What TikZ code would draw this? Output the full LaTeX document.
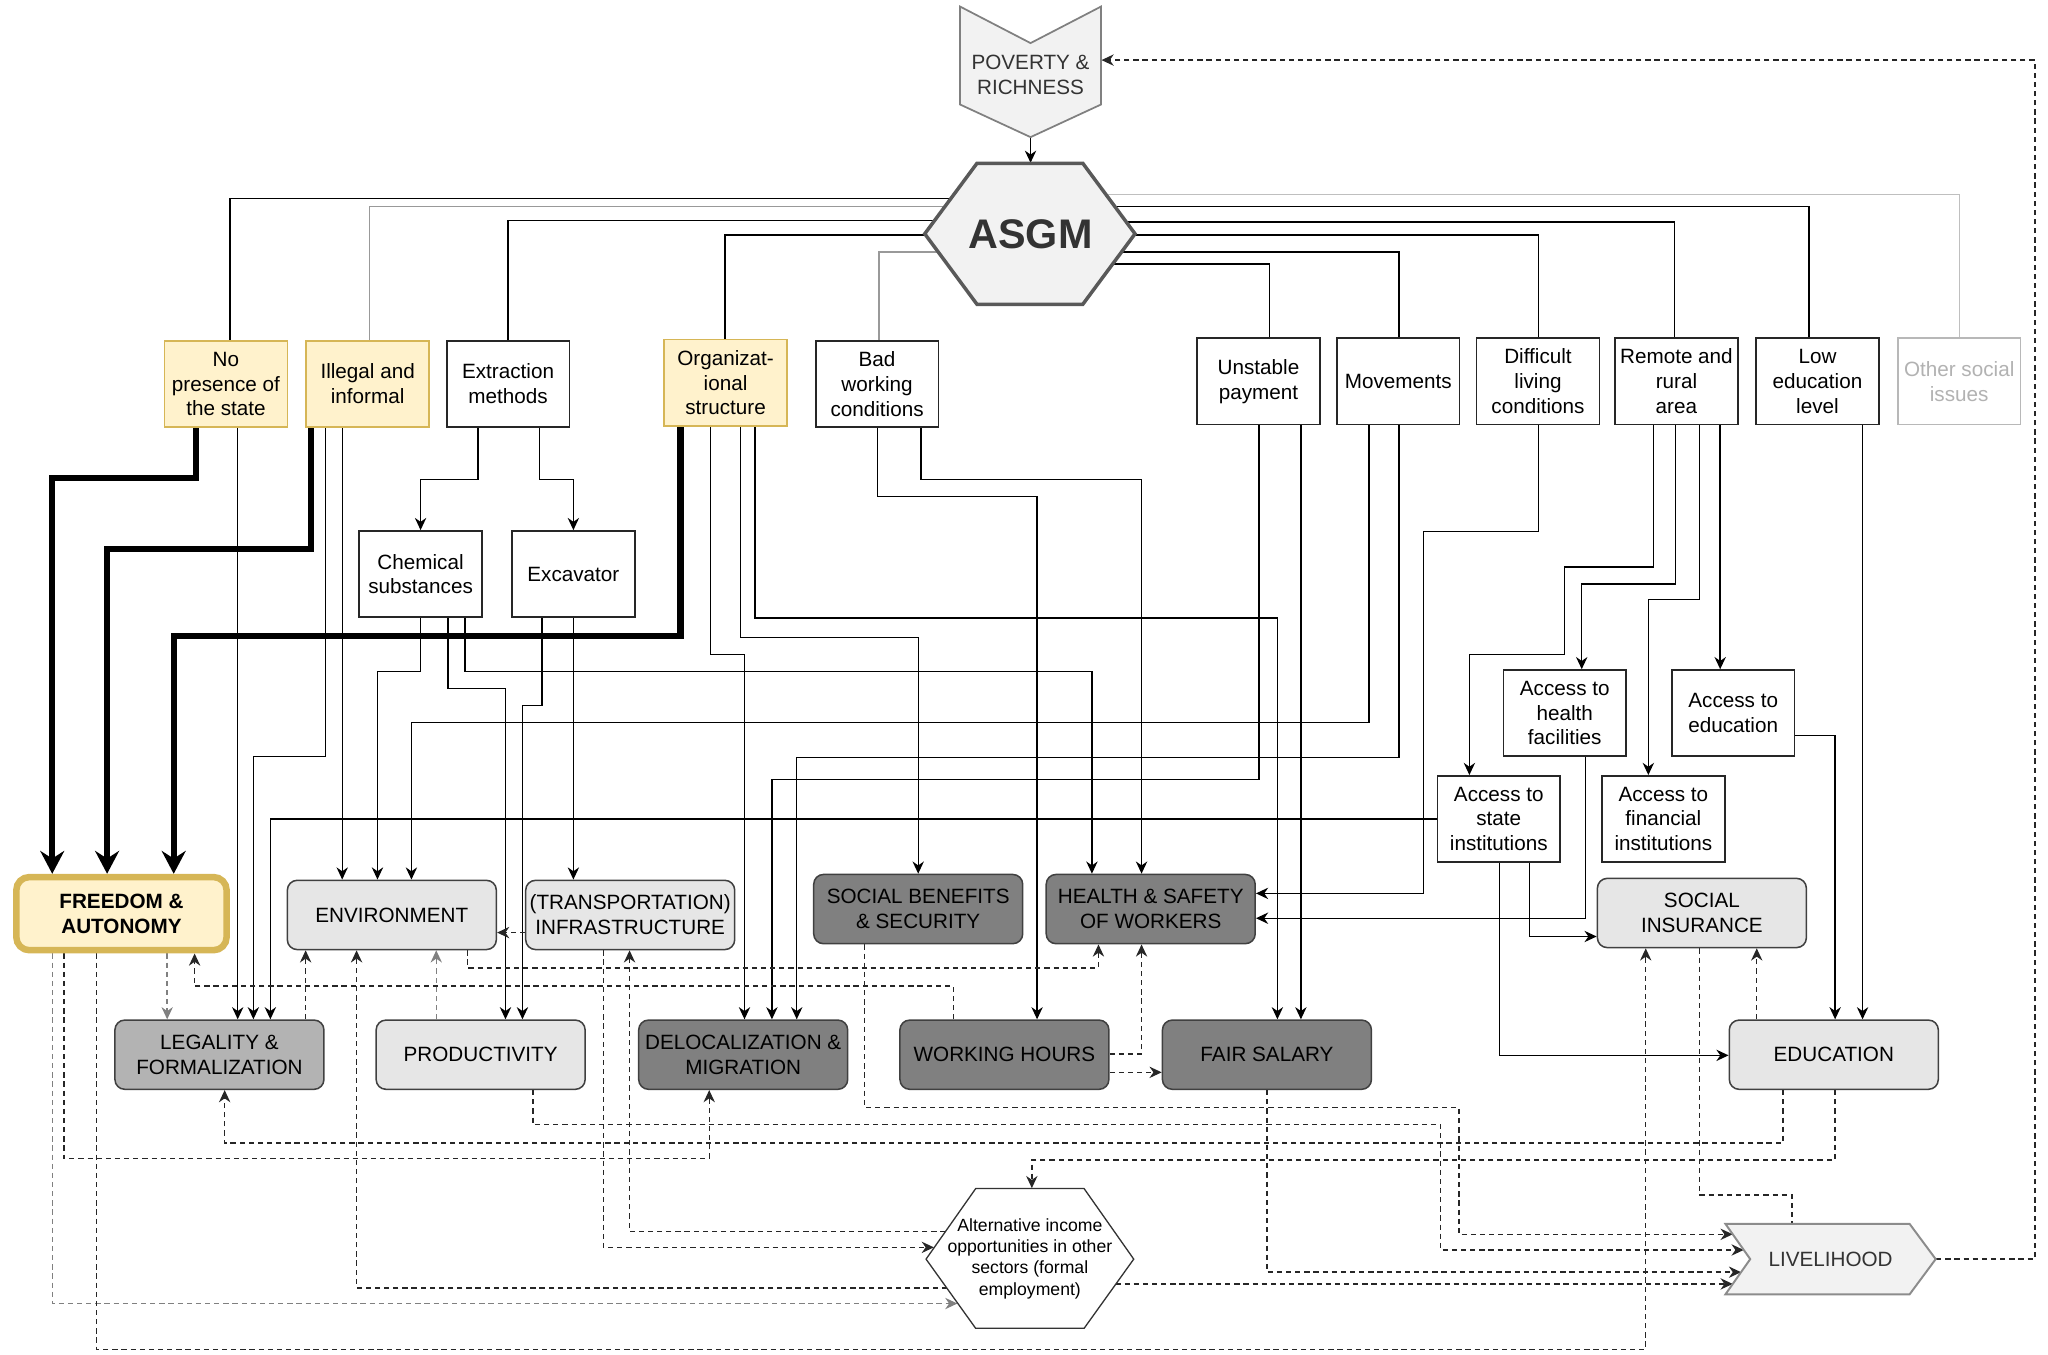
\documentclass[tikz,border=0pt]{standalone}
\usepackage{fontspec}
\setmainfont{Liberation Sans}
\usetikzlibrary{arrows.meta}
\pgfdeclarelayer{bg}
\pgfsetlayers{bg,main}
\definecolor{yfill}{HTML}{FFF2CC}
\definecolor{yborder}{HTML}{D6B656}
\definecolor{lgfill}{HTML}{E6E6E6}
\definecolor{mgfill}{HTML}{B3B3B3}
\definecolor{dgfill}{HTML}{808080}
\definecolor{shfill}{HTML}{F2F2F2}
\definecolor{txtd}{HTML}{333333}
\begin{document}
\begin{tikzpicture}[x=0.6pt,y=-0.6pt,
  every node/.style={font=\fontsize{9.5}{11.4}\selectfont, align=center, inner sep=1pt, text=black},
  sq/.style={draw=black!85, line width=0.75pt, fill=white, minimum width=56.4pt, minimum height=39.6pt},
  yel/.style={sq, fill=yfill, draw=yborder},
  rbox/.style={draw=black!75, line width=0.7pt, rounded corners=4.5pt, minimum width=96pt, minimum height=31.8pt, inner sep=0.5pt},
  lg/.style={rbox, fill=lgfill},
  mg/.style={rbox, fill=mgfill},
  dg/.style={rbox, fill=dgfill},
  ln/.style={line width=0.65pt, draw=black},
  conn/.style={ln, -{Stealth[length=5.6pt,width=5.2pt,inset=1.8pt]}},
  thk/.style={line width=2.8pt, draw=black, -{Stealth[length=10.5pt,width=11pt,inset=3.5pt]}},
  dsh/.style={conn, draw=black!85, dash pattern=on 2.4pt off 1.8pt},
  dshg/.style={dsh, draw=black!50},
  dshp/.style={ln, draw=black!85, dash pattern=on 2.4pt off 1.8pt},
]
\useasboundingbox (0,0) rectangle (1568,1037);

% ---- special shapes ----
\filldraw[fill=shfill, draw=black!50, line width=0.8pt] (735,5) -- (789,33) -- (843,5) -- (843,80) -- (789,105) -- (735,80) -- cycle;
\node[minimum width=64.8pt, minimum height=20pt, text=txtd] (pov) at (789,57.5) {POVERTY \&\\RICHNESS};

\filldraw[fill=shfill, draw=black!65, line width=1.6pt] (708,179) -- (748,125) -- (829,125) -- (869,179) -- (829,233) -- (748,233) -- cycle;
\node[minimum width=96.6pt, minimum height=64.8pt, font=\fontsize{19}{22}\selectfont\bfseries, text=txtd] (asgm) at (789,179) {ASGM};

\filldraw[fill=white, draw=black!80, line width=0.6pt] (709,964) -- (747,910) -- (830,910) -- (868,964) -- (830,1017) -- (747,1017) -- cycle;
\node[minimum width=95.4pt, minimum height=64.2pt, font=\fontsize{8.1}{9.8}\selectfont] (alt) at (788.5,963.5) {Alternative income\\opportunities in other\\sectors (formal\\employment)};

\filldraw[fill=shfill, draw=black!45, line width=0.9pt] (1321,937) -- (1462,937) -- (1482,964) -- (1462,991) -- (1321,991) -- (1340,964) -- cycle;
\node[minimum width=96.6pt, minimum height=32.4pt, text=txtd] (live) at (1401.5,964) {LIVELIHOOD};

% ---- top row ----
\node[yel] (nops) at (173,294) {No\\presence of\\the state};
\node[yel] (ill) at (281.5,294) {Illegal and\\informal};
\node[sq] (ext) at (389,294) {Extraction\\methods};
\node[yel] (org) at (555.5,293) {Organizat-\\ional\\structure};
\node[sq] (bad) at (671.5,294) {Bad\\working\\conditions};
\node[sq] (unst) at (963.5,292) {Unstable\\payment};
\node[sq] (mov) at (1070.5,292) {Movements};
\node[sq] (diff) at (1177.5,292) {Difficult\\living\\conditions};
\node[sq] (rem) at (1283.5,292) {Remote and\\rural\\area};
\node[sq] (low) at (1391.5,292) {Low\\education\\level};
\node[sq, draw=black!28, text=black!30] (oth) at (1500,292) {Other social\\issues};

\node[sq] (chem) at (322,439.5) {Chemical\\substances};
\node[sq] (exc) at (439,439.5) {Excavator};
\node[sq] (ahf) at (1198,546) {Access to\\health\\facilities};
\node[sq] (aed) at (1327,546) {Access to\\education};
\node[sq] (asi) at (1147.5,627) {Access to\\state\\institutions};
\node[sq] (afi) at (1273.5,627) {Access to\\financial\\institutions};

% ---- outcome boxes ----
\node[rbox, fill=yfill, draw=yborder, line width=3pt, rounded corners=6pt, minimum width=96.6pt, minimum height=33.6pt, font=\fontsize{9.5}{11.4}\selectfont\bfseries] (free) at (93,699.5) {FREEDOM \&\\AUTONOMY};
\node[lg] (env) at (300,700.5) {ENVIRONMENT};
\node[lg] (trans) at (482.5,700.5) {(TRANSPORTATION)\\INFRASTRUCTURE};
\node[dg] (sbs) at (703,696) {SOCIAL BENEFITS\\\& SECURITY};
\node[dg] (hsw) at (881,696) {HEALTH \& SAFETY\\OF WORKERS};
\node[lg] (sins) at (1303,699) {SOCIAL\\INSURANCE};
\node[mg] (leg) at (168,807.5) {LEGALITY \&\\FORMALIZATION};
\node[lg] (prod) at (368,807.5) {PRODUCTIVITY};
\node[dg] (del) at (569,807.5) {DELOCALIZATION \&\\MIGRATION};
\node[dg] (wh) at (769,807.5) {WORKING HOURS};
\node[dg] (fair) at (970,807.5) {FAIR SALARY};
\node[lg] (edu) at (1404,807.5) {EDUCATION};

% ---- free ends on slanted sides ----
\coordinate (povtip) at (789,105);
\coordinate (altin1) at (715,955);
\coordinate (altout1) at (724,943);
\coordinate (altout2) at (725,986);
\coordinate (altin2) at (733,998);
\coordinate (altout3) at (854,983);
\coordinate (livein1) at (1326.6,945);
\coordinate (livein2) at (1335,957);
\coordinate (livein3) at (1333,974);
\coordinate (livein4) at (1326.6,983);

\begin{pgfonlayer}{bg}
% ASGM to issues
\draw[ln] (asgm.center |- 0,152) -| (nops.north -| 176,0);
\draw[ln, draw=black!40] (asgm.center |- 0,158) -| (ill.north -| 283,0);
\draw[ln] (asgm.center |- 0,169) -| (ext.north);
\draw[ln] (asgm.center |- 0,180) -| (org.north -| 555,0);
\draw[ln, draw=black!40] (asgm.center |- 0,193) -| (bad.north -| 673,0);
\draw[ln, draw=black!25] (asgm.center |- 0,149) -| (oth.north);
\draw[ln] (asgm.center |- 0,158) -| (low.north -| 1385,0);
\draw[ln] (asgm.center |- 0,170) -| (rem.north -| 1282,0);
\draw[ln] (asgm.center |- 0,180) -| (diff.north -| 1178,0);
\draw[ln] (asgm.center |- 0,193) -| (mov.north -| 1071,0);
\draw[ln] (asgm.center |- 0,202) -| (unst.north -| 972,0);
\draw[conn] (povtip) -- (asgm.north);

% thick to freedom
\draw[thk] (nops.south -| 150,0) |- (40,366) -- (free.north -| 40,0);
\draw[thk] (ill.south -| 238,0) |- (82,420) -- (free.north -| 82,0);
\draw[thk] (org.south -| 521,0) |- (133,487) -- (free.north -| 133,0);

% thin solid
\draw[conn] (nops.south -| 182,0) -- (leg.north -| 182,0);
\draw[conn] (ill.south -| 249,0) |- (194,579) -- (leg.north -| 194,0);
\draw[conn] (ill.south -| 262,0) -- (env.north -| 262,0);
\draw[conn] (ext.south -| 366,0) |- (322,367) -- (chem.north -| 322,0);
\draw[conn] (ext.south -| 413,0) |- (439,367) -- (exc.north -| 439,0);
\draw[conn] (chem.south -| 322,0) |- (289,514) -- (env.north -| 289,0);
\draw[conn] (chem.south -| 343,0) |- (387,527) -- (prod.north -| 387,0);
\draw[conn] (chem.south -| 356,0) |- (836,514) -- (hsw.north -| 836,0);
\draw[conn] (exc.south -| 415,0) |- (400,540) -- (prod.north -| 400,0);
\draw[conn] (exc.south -| 439,0) -- (trans.north -| 439,0);
\draw[conn] (org.south -| 544,0) |- (570,501) -- (del.north -| 570,0);
\draw[conn] (org.south -| 567,0) |- (703,488) -- (sbs.north -| 703,0);
\draw[conn] (org.south -| 578,0) |- (978,473) -- (fair.north -| 978,0);
\draw[conn] (bad.south -| 672,0) |- (794,380) -- (wh.north -| 794,0);
\draw[conn] (bad.south -| 705,0) |- (874,367) -- (hsw.north -| 874,0);
\draw[conn] (unst.south -| 964,0) |- (591,597) -- (del.north -| 591,0);
\draw[conn] (unst.south -| 996,0) -- (fair.north -| 996,0);
\draw[conn] (mov.south -| 1048,0) |- (315,553) -- (env.north -| 315,0);
\draw[conn] (mov.south -| 1071,0) |- (610,580) -- (del.north -| 610,0);
\draw[conn] (diff.south -| 1178,0) |- (1090,407) |- (hsw.east |- 0,684);
\draw[conn] (rem.south -| 1266,0) |- (1198,434) |- (1125,501) -- (asi.north -| 1125,0);
\draw[conn] (rem.south -| 1283,0) |- (1211,447) -- (ahf.north -| 1211,0);
\draw[conn] (rem.south -| 1301,0) |- (1262,459) -- (afi.north -| 1262,0);
\draw[conn] (rem.south -| 1317,0) -- (aed.north -| 1317,0);
\draw[conn] (low.south -| 1426,0) -- (edu.north -| 1426,0);
\draw[conn] (aed.east |- 0,563) -| (edu.north -| 1405,0);
\draw[conn] (ahf.south -| 1214,0) |- (hsw.east |- 0,703);
\draw[conn] (asi.west |- 0,627) -| (leg.north -| 207,0);
\draw[conn] (asi.south -| 1148,0) |- (edu.west |- 0,808);
\draw[conn] (asi.south -| 1171,0) |- (sins.west |- 0,717);

% dashed
\draw[dshg] (free.south -| 128,0) -- (leg.north -| 128,0);
\draw[dshg] (free.south -| 40,0) |- (altin2);
\draw[dsh] (free.south -| 49,0) |- (543,887) -- (del.south -| 543,0);
\draw[dsh] (free.south -| 74,0) |- (1260,1033) -- (sins.south -| 1260,0);
\draw[dsh] (leg.north -| 234,0) -- (env.south -| 234,0);
\draw[dsh] (wh.north -| 730,0) |- (149,755) -- (free.south -| 149,0);
\draw[dsh] (altout2) -| (env.south -| 273,0);
\draw[dshg] (prod.north -| 334,0) -- (env.south -| 334,0);
\draw[dsh] (env.south -| 358,0) |- (841,741) -- (hsw.south -| 841,0);
\draw[dsh] (trans.west |- 0,714) -- (env.east |- 0,714);
\draw[dsh] (trans.south -| 462,0) |- (altin1);
\draw[dsh] (altout1) -| (trans.south -| 482,0);
\draw[dsh] (wh.east |- 0,807) -| (hsw.south -| 874,0);
\draw[dsh] (wh.east |- 0,821) -- (fair.west |- 0,821);
\draw[dsh] (sbs.south -| 662,0) |- (1117,848) |- (livein1);
\draw[dsh] (prod.south -| 408,0) |- (1103,861) |- (livein2);
\draw[dsh] (edu.south -| 1365,0) |- (172,875) -- (leg.south -| 172,0);
\draw[dsh] (edu.south -| 1405,0) |- (790,888) -- (alt.north -| 790,0);
\draw[dshp] (sins.south -| 1301,0) |- (1372,915) -- (live.north -| 1372,0);
\draw[dsh] (fair.south -| 970,0) |- (livein3);
\draw[dsh] (altout3) -- (livein4);
\draw[dsh] (live.east) -| (1558,46) -- (pov.east |- 0,46);
\draw[dsh] (edu.north -| 1345,0) -- (sins.south -| 1345,0);
\end{pgfonlayer}
\end{tikzpicture}
\end{document}
